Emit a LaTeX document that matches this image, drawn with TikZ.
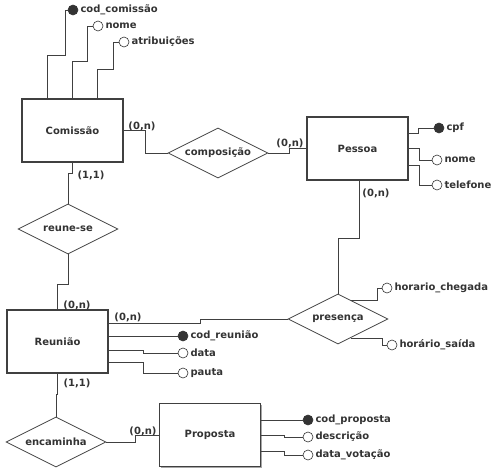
\documentclass[tikz,border=0pt]{standalone}
\usepackage{fontspec}
\setmainfont{DejaVu Sans}
\usetikzlibrary{shapes.geometric, calc, shadows}

\begin{document}
\begin{tikzpicture}[x=1pt, y=-1pt,
    every node/.style={font=\fontsize{10}{11}\selectfont\bfseries, text=black!80},
    entity/.style={draw=black!75, line width=1.2pt, fill=white, minimum width=101pt, minimum height=63pt,
        drop shadow={shadow xshift=1pt, shadow yshift=-1pt, fill=black!35, opacity=1}},
    relation/.style={diamond, aspect=2, draw=black!75, line width=0.8pt, minimum width=100pt, minimum height=50pt, inner sep=0pt},
    key/.style={circle, draw=black!80, fill=black!80, line width=0.6pt, minimum size=10pt, inner sep=0pt},
    attr/.style={circle, draw=black!80, fill=white, line width=0.6pt, minimum size=10pt, inner sep=0pt},
    card/.style={inner sep=1pt},
    link/.style={draw=black!75, line width=0.8pt}]
\useasboundingbox (0,0) rectangle (498,472);
% Entities
\node[entity] (comissao) at (72.5,130.5) {Comissão};
\node[entity] (pessoa) at (357.5,148.5) {Pessoa};
\node[entity] (reuniao) at (57.5,341.5) {Reunião};
\node[entity] (proposta) at (210,435) {Proposta};
% Relationships
\node[relation] (composicao) at (218,153) {composição};
\node[relation] (reunese) at (68,229) {reune-se};
\node[relation] (presenca) at (338,319) {presença};
\node[relation] (encaminha) at (56,442) {encaminha};
% Attributes
\node[key, label={[inner sep=2pt]right:cod\_comissão}] (codcom) at (73,10) {};
\node[attr, label={[inner sep=2pt]right:nome}] (nomecom) at (98,26) {};
\node[attr, label={[inner sep=2pt]right:atribuições}] (atrib) at (124,42) {};
\node[key, label={[inner sep=2pt]right:cpf}] (cpf) at (439,128) {};
\node[attr, label={[inner sep=2pt]right:nome}] (nomep) at (437,160) {};
\node[attr, label={[inner sep=2pt]right:telefone}] (tel) at (437,185) {};
\node[attr, label={[inner sep=2pt]right:horario\_chegada}] (hcheg) at (387,288) {};
\node[attr, label={[inner sep=2pt]right:horário\_saída}] (hsaida) at (392,345) {};
\node[key, label={[inner sep=2pt]right:cod\_reunião}] (codreu) at (183,336) {};
\node[attr, label={[inner sep=2pt]right:data}] (datar) at (183,353) {};
\node[attr, label={[inner sep=2pt]right:pauta}] (pauta) at (183,373) {};
\node[key, label={[inner sep=2pt]right:cod\_proposta}] (codprop) at (308,420) {};
\node[attr, label={[inner sep=2pt]right:descrição}] (desc) at (308,437) {};
\node[attr, label={[inner sep=2pt]right:data\_votação}] (dvot) at (308,455) {};
% Cardinalities
\node[card] (c1) at (142,126) {(0,n)};
\node[card] (c2) at (290,143) {(0,n)};
\node[card] (c3) at (91,175) {(1,1)};
\node[card] (c4) at (376,193) {(0,n)};
\node[card] (c5) at (77,305) {(0,n)};
\node[card] (c6) at (128,317) {(0,n)};
\node[card] (c7) at (77,383) {(1,1)};
\node[card] (c8) at (143,431) {(0,n)};
% Relationship links
\draw[link] (comissao.east) -- ++(22,0) |- (composicao.west);
\draw[link] (composicao.east) -- ++(21,0) |- (pessoa.west);
\draw[link] (comissao.south) -- ++(0,11) -| (reunese.north);
\draw[link] (reunese.south) -- ++(0,30) -| (reuniao.north);
\draw[link] ([xshift=2pt]pessoa.south) -- ++(0,58) -| (presenca.north);
\draw[link] ([yshift=18pt]reuniao.east) -- ++(92,0) |- (presenca.west);
\draw[link] (reuniao.south) -- ++(0,21) -| (encaminha.north);
\draw[link] (encaminha.east) -- ++(29,0) |- (proposta.west);
% Attribute links
\draw[link] (comissao.north) ++(-25.5,0) -- ++(0,-43) -- ++(18,0) |- (codcom.west);
\draw[link] (comissao.north) -- ++(0,-37) -- ++(15,0) |- (nomecom.west);
\draw[link] (comissao.north) ++(24.5,0) -- ++(0,-29) -- ++(16,0) |- (atrib.west);
\draw[link] ([yshift=15.5pt]pessoa.east) -- ++(10,0) |- (cpf.west);
\draw[link] (pessoa.east) -- ++(11,0) |- (nomep.west);
\draw[link] ([yshift=-16.5pt]pessoa.east) -- ++(11,0) |- (tel.west);
\draw[link] ($(presenca.north)!0.25!(presenca.east)$) -- ++(27,0) |- (hcheg.west);
\draw[link] ($(presenca.south)!0.25!(presenca.east)$) -- ++(32,0) |- (hsaida.west);
\draw[link] ([yshift=5.5pt]reuniao.east) -- (codreu.west);
\draw[link] ([yshift=-8.5pt]reuniao.east) -- ++(35,0) |- (datar.west);
\draw[link] ([yshift=-20.5pt]reuniao.east) -- ++(35,0) |- (pauta.west);
\draw[link] ([yshift=15pt]proposta.east) -- (codprop.west);
\draw[link] (proposta.east) -- ++(23,0) |- (desc.west);
\draw[link] ([yshift=-16pt]proposta.east) -- ++(23,0) |- (dvot.west);
\end{tikzpicture}
\end{document}
